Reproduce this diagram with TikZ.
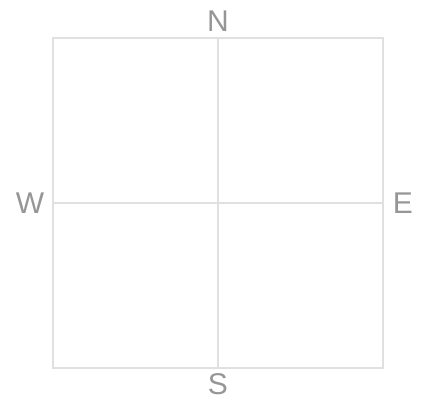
\documentclass[tikz,border=0pt]{standalone}
\usepackage{fontspec}
\setmainfont{Liberation Sans}
\usepackage{tikz}
\usetikzlibrary{positioning}
\definecolor{gridgray}{RGB}{224,224,224}
\definecolor{labelgray}{RGB}{150,150,150}

\begin{document}
\begin{tikzpicture}[x=1pt, y=-1pt, frame/.style={draw=gridgray, line width=1.2pt, minimum size=330pt, inner sep=0pt}, axis/.style={draw=gridgray, line width=1.2pt}, dir/.style={text=labelgray, inner sep=0pt, font=\fontsize{30}{30}\selectfont}]
\useasboundingbox (0,0) rectangle (422,404);
\node[frame] (box) at (218,203) {};
\node[dir, above=6pt of box.north] (north) {N};
\node[dir, below=5pt of box.south] (south) {S};
\node[dir, left=8pt of box.west] (west) {W};
\node[dir, right=9pt of box.east] (east) {E};
\draw[axis] (box.north) -- (box.south);
\draw[axis] (box.west) -- (box.east);
\end{tikzpicture}
\end{document}
